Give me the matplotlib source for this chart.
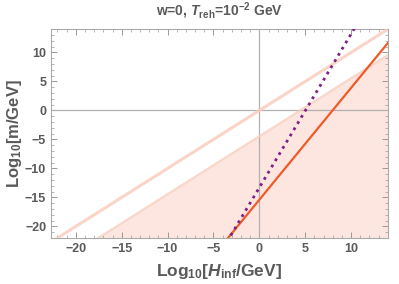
import numpy as np
import matplotlib
matplotlib.use("Agg")
import matplotlib.pyplot as plt
from matplotlib.ticker import MultipleLocator

plt.rcParams["font.family"] = ["Liberation Sans", "DejaVu Sans"]
plt.rcParams["mathtext.fontset"] = "custom"
plt.rcParams["mathtext.rm"] = "Liberation Sans:bold"
plt.rcParams["mathtext.it"] = "Liberation Sans:italic:bold"
plt.rcParams["mathtext.bf"] = "Liberation Sans:bold"
plt.rcParams["mathtext.default"] = "rm"

# Data (log10 values)
x_range = [-22.7, 14.0]
y_range = [-22.0, 14.0]
upper_slope, upper_icpt = 1.0, 0.0        # upper pale boundary line
lower_slope, lower_icpt = 1.0, -4.45      # lower pale boundary (shaded below)
red_slope, red_icpt = 1.93, -15.4         # solid orange-red line
purple_slope, purple_icpt = 2.65, -13.3   # dotted purple line

xticks = [-20, -15, -10, -5, 0, 5, 10]
yticks = [-20, -15, -10, -5, 0, 5, 10]

gray = "#5a5a5a"
pink_line = "#F9CDBE"
fill_col = "#FDE6DF"
red_col = "#F05A28"
purple_col = "#7F1F86"

fig = plt.figure(figsize=(3.99, 2.84), dpi=100)
ax = fig.add_axes([0.128, 0.162, 0.844, 0.735])

x = np.linspace(x_range[0], x_range[1], 400)
ax.fill_between(x, y_range[0] - 5, lower_slope * x + lower_icpt, color=fill_col, lw=0, zorder=1)
ax.axhline(0, color="#b0b0b0", lw=0.9, zorder=2)
ax.axvline(0, color="#b0b0b0", lw=0.9, zorder=2)
ax.plot(x, upper_slope * x + upper_icpt, color=pink_line, lw=2.2, alpha=0.85, zorder=3, solid_capstyle="butt")
ax.plot(x, lower_slope * x + lower_icpt, color=pink_line, lw=1.6, alpha=0.8, zorder=3, solid_capstyle="butt")
ax.plot(x, red_slope * x + red_icpt, color=red_col, lw=1.6, zorder=4)
ax.plot(x, purple_slope * x + purple_icpt, color=purple_col, lw=2.0, ls=(0, (1.0, 1.6)), zorder=5)

ax.set_xlim(*x_range)
ax.set_ylim(*y_range)
ax.set_xticks(xticks)
ax.set_yticks(yticks)
ax.set_xticklabels(["\u2212%d" % -t if t < 0 else str(t) for t in xticks])
ax.set_yticklabels(["\u2212%d" % -t if t < 0 else str(t) for t in yticks])
ax.xaxis.set_minor_locator(MultipleLocator(1))
ax.yaxis.set_minor_locator(MultipleLocator(1))
ax.tick_params(which="both", direction="in", top=True, right=True, colors="#999999",
               labelcolor=gray, labelsize=9)
ax.tick_params(which="major", length=4, width=0.7)
ax.tick_params(which="minor", length=2, width=0.5)
for lab in ax.get_xticklabels() + ax.get_yticklabels():
    lab.set_fontweight("bold")
for s in ax.spines.values():
    s.set_color("#aaaaaa")
    s.set_linewidth(0.8)

ax.set_xlabel(r"Log$_{10}$[$\mathit{H}_{\mathrm{inf}}$/GeV]", fontsize=12.5, color=gray, fontweight="bold", labelpad=5)
ax.set_ylabel(r"Log$_{10}$[m/GeV]", fontsize=12, color=gray, fontweight="bold", va="center")
ax.yaxis.set_label_coords(-0.108, 0.5)
ax.set_title(r"w=0, $\mathit{T}_{\mathrm{reh}}$=10$^{-2}$ GeV", fontsize=10, color=gray, fontweight="bold", pad=10)

fig.savefig("out.png", dpi=100)
